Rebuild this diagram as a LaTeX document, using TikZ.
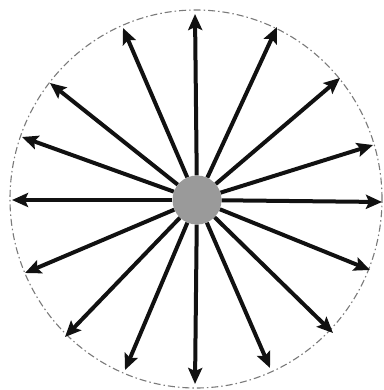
\documentclass[tikz,border=0pt]{standalone}
\usetikzlibrary{arrows.meta}
\definecolor{dotgray}{HTML}{9A9A9A}
\definecolor{rimgray}{HTML}{7A7A7A}
\definecolor{spoke}{HTML}{111111}
\tikzset{
  hub/.style={circle, fill=dotgray, draw=none, minimum size=49pt, inner sep=0pt},
  rim/.style={draw=rimgray, line width=1.1pt, dash pattern=on 7pt off 3pt on 1.5pt off 3pt},
  spokearrow/.style={draw=spoke, line width=4pt, -{Stealth[length=16pt, width=14pt, inset=3pt]}}
}
\begin{document}
\begin{tikzpicture}[x=1pt, y=-1pt]
\useasboundingbox (0,0) rectangle (383,390);
\draw[rim] (196,199) ellipse [x radius=186pt, y radius=189pt];
\foreach \n/\x/\y in {a/195/14, b/277/27, c/123/28, d/340/78, e/50/83, f/373/145, g/22/137, h/382/202, i/12/200, j/370/270, k/25/273, l/333/333, m/65/337, n/270/368, o/125/370, p/195/384}{
  \coordinate (\n) at (\x,\y);
}
\node[hub] (hub) at (197,200) {};
\foreach \n in {a,b,c,d,e,f,g,h,i,j,k,l,m,n,o,p}{
  \draw[spokearrow] (hub) -- (\n);
}
\end{tikzpicture}
\end{document}
